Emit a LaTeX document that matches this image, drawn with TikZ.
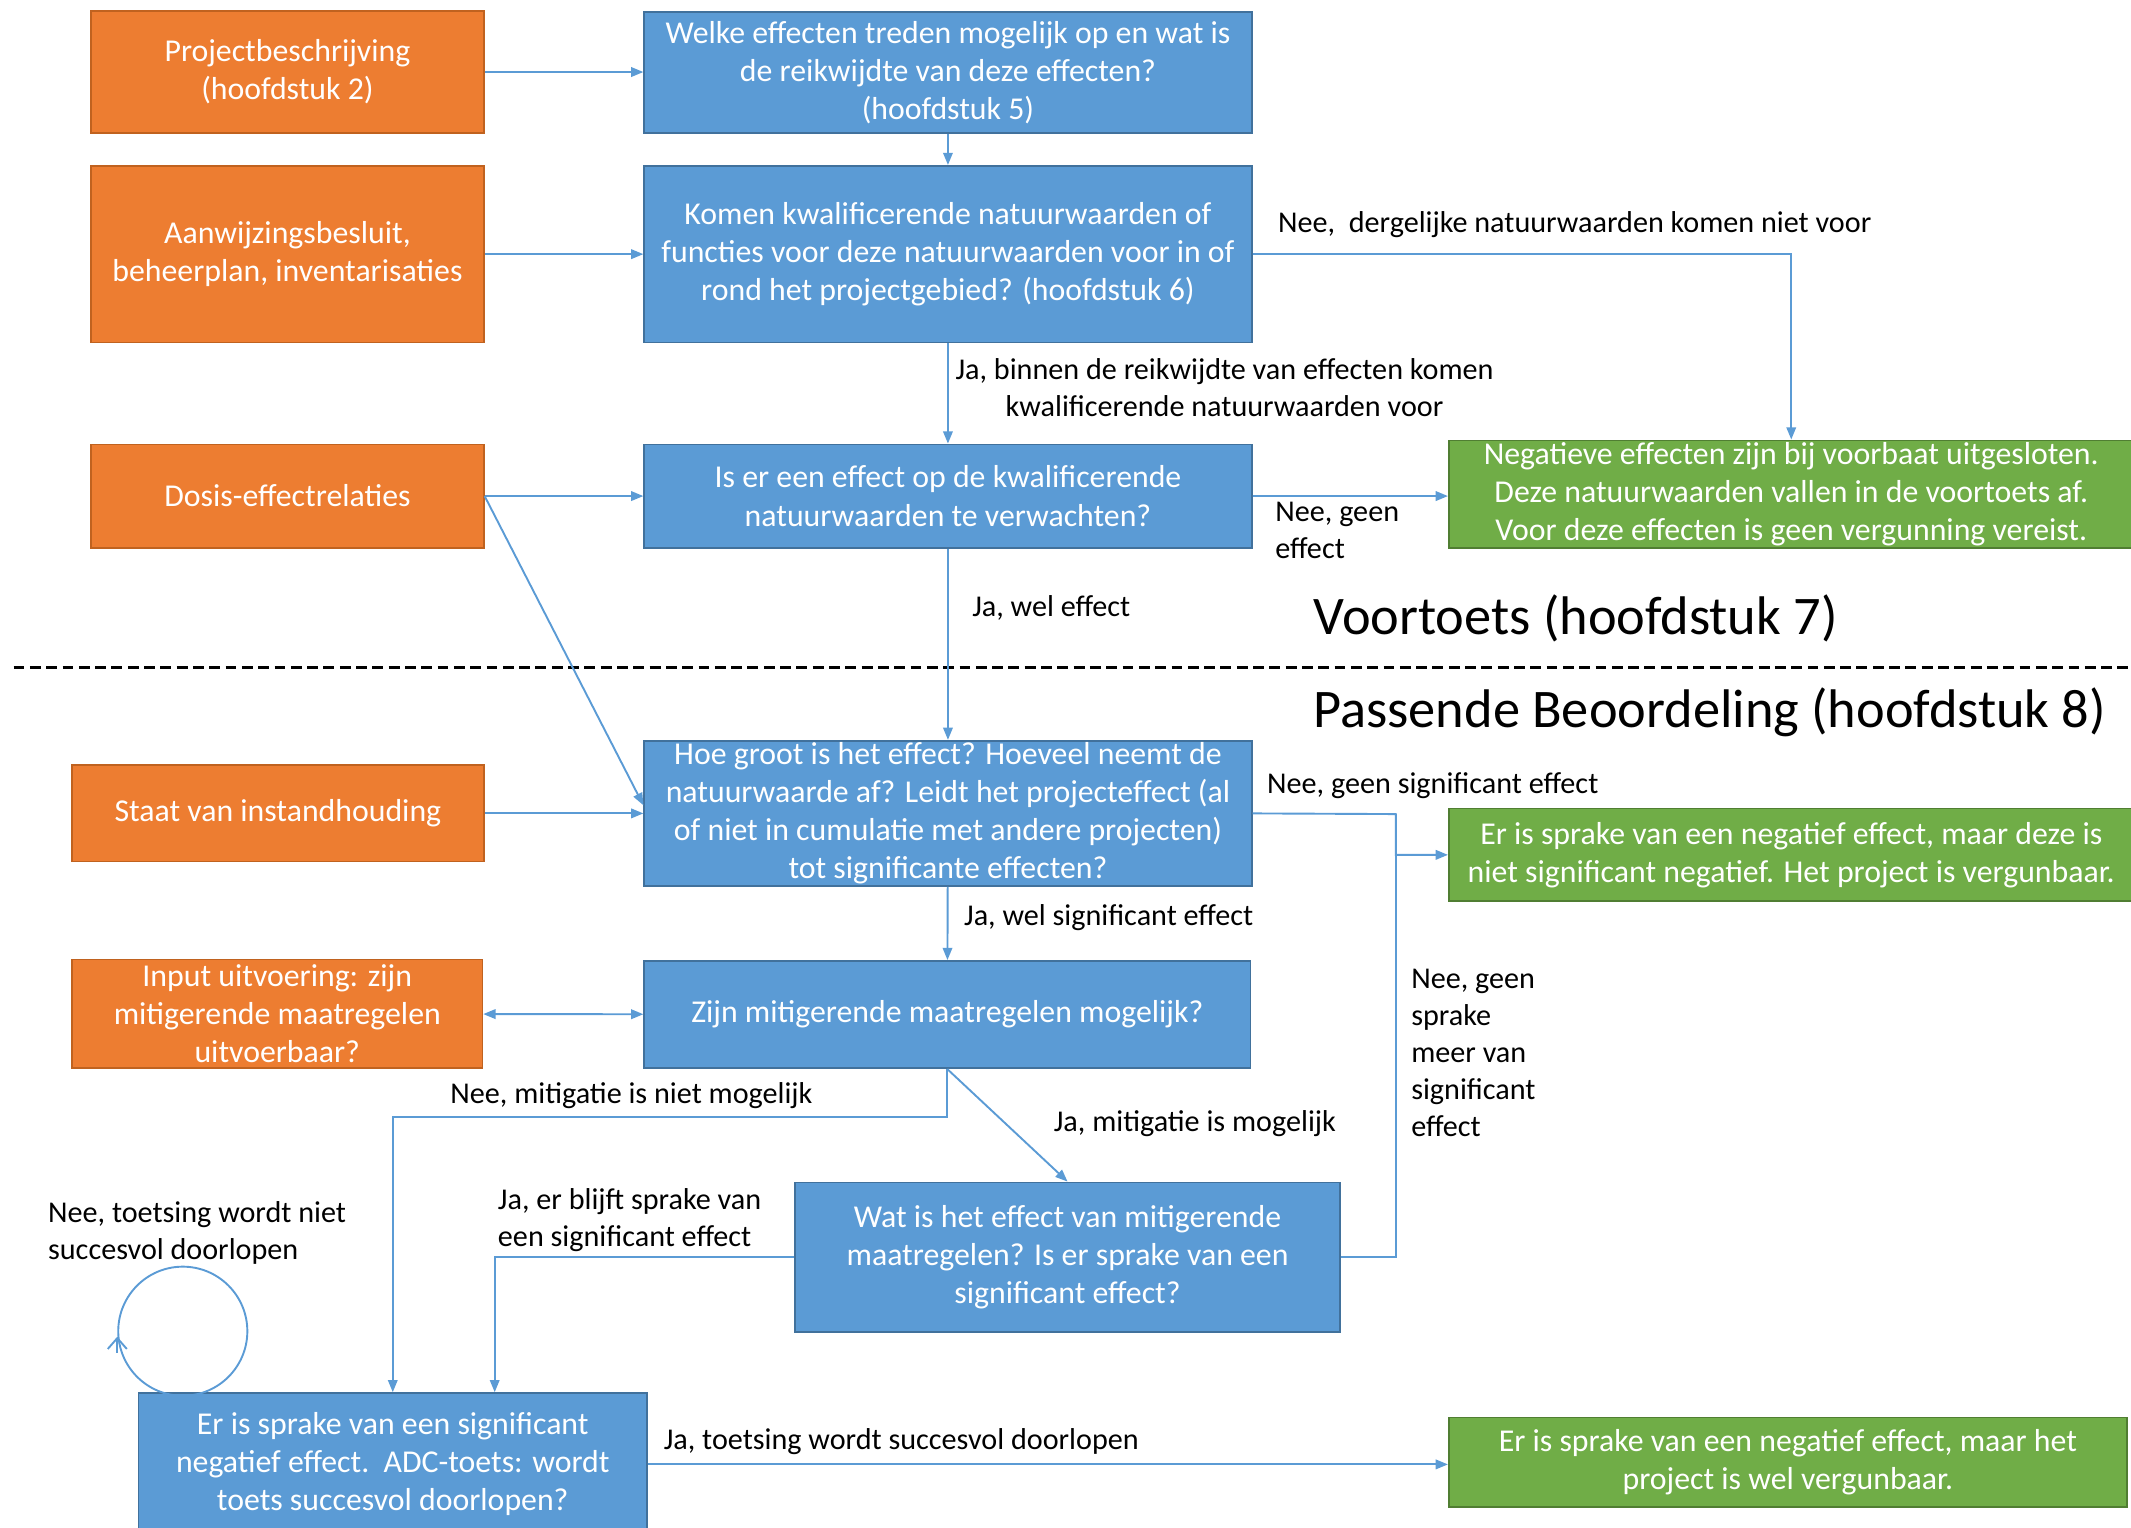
\documentclass[tikz,border=0pt]{standalone}
\usepackage{fontspec}
\setmainfont{Carlito}
\usetikzlibrary{arrows.meta}
\definecolor{oranjevak}{HTML}{ED7D31}
\definecolor{oranjerand}{HTML}{C0621F}
\definecolor{blauwvak}{HTML}{5B9BD5}
\definecolor{blauwrand}{HTML}{41719C}
\definecolor{groenvak}{HTML}{70AD47}
\definecolor{groenrand}{HTML}{507E32}
\begin{document}
\begin{tikzpicture}[x=0.5pt,y=-0.5pt,every node/.style={align=center,font=\fontsize{11.7}{14}\selectfont},
invoer/.style={rectangle,fill=oranjevak,draw=oranjerand,text=white,line width=0.6pt,inner ysep=0pt},
vraag/.style={rectangle,fill=blauwvak,draw=blauwrand,text=white,line width=0.6pt,inner ysep=0pt},
uitkomst/.style={rectangle,fill=groenvak,draw=groenrand,text=white,line width=0.6pt,inner ysep=0pt},
lijn/.style={draw=blauwvak,line width=0.7pt},
pijl/.style={lijn,-{Triangle[length=4.5pt,width=3.5pt]}},
tekst/.style={inner sep=0pt,anchor=west,align=left,font=\fontsize{11.1}{13.6}\selectfont},
kop/.style={inner sep=0pt,anchor=west,font=\fontsize{20}{24}\selectfont}]
\useasboundingbox (0,0) rectangle (1568,1124);
% invoer links
\node[invoer,minimum width=144.5pt,minimum height=45pt] (o1) at (211.5,53) {Projectbeschrijving\\(hoofdstuk 2)};
\node[invoer,minimum width=144.5pt,minimum height=65pt] (o2) at (211.5,187) {Aanwijzingsbesluit,\\beheerplan, inventarisaties};
\node[invoer,minimum width=144.5pt,minimum height=38pt] (o3) at (211.5,365) {Dosis-effectrelaties};
\node[invoer,minimum width=151.5pt,minimum height=35.5pt] (o4) at (204.5,598.5) {Staat van instandhouding};
\node[invoer,minimum width=151pt,minimum height=40pt] (o5) at (204,746) {Input uitvoering: zijn\\mitigerende maatregelen\\uitvoerbaar?};
% vragen
\node[vraag,minimum width=223.5pt,minimum height=44.5pt] (b1) at (697.5,53.5) {Welke effecten treden mogelijk op en wat is\\de reikwijdte van deze effecten?\\(hoofdstuk 5)};
\node[vraag,minimum width=223.5pt,minimum height=65pt] (b2) at (697.5,187) {Komen kwalificerende natuurwaarden of\\functies voor deze natuurwaarden voor in of\\rond het projectgebied? (hoofdstuk 6)};
\node[vraag,minimum width=223.5pt,minimum height=38pt] (b3) at (697.5,365) {Is er een effect op de kwalificerende\\natuurwaarden te verwachten?};
\node[vraag,minimum width=223.5pt,minimum height=53.5pt] (b4) at (697.5,598.5) {Hoe groot is het effect? Hoeveel neemt de\\natuurwaarde af? Leidt het projecteffect (al\\of niet in cumulatie met andere projecten)\\tot significante effecten?};
\node[vraag,minimum width=223pt,minimum height=39.5pt] (b5) at (697,746.5) {Zijn mitigerende maatregelen mogelijk?};
\node[vraag,minimum width=200.5pt,minimum height=55pt] (b6) at (785.5,925) {Wat is het effect van mitigerende\\maatregelen? Is er sprake van een\\significant effect?};
\node[vraag,minimum width=187pt,minimum height=52.5pt] (b7) at (289,1077.5) {Er is sprake van een significant\\negatief effect.\ \ ADC-toets: wordt\\toets succesvol doorlopen?};
% uitkomsten
\node[uitkomst,minimum width=252pt,minimum height=39.5pt] (g1) at (1318,363.5) {Negatieve effecten zijn bij voorbaat uitgesloten.\\Deze natuurwaarden vallen in de voortoets af.\\Voor deze effecten is geen vergunning vereist.};
\node[uitkomst,minimum width=252pt,minimum height=34pt] (g2) at (1318,629) {Er is sprake van een negatief effect, maar deze is\\niet significant negatief. Het project is vergunbaar.};
\node[uitkomst,minimum width=249.5pt,minimum height=33pt] (g3) at (1315.5,1076) {Er is sprake van een negatief effect, maar het\\project is wel vergunbaar.};
% teksten bij de pijlen
\node[tekst] (t1) at (940,165) {Nee,\ \ dergelijke natuurwaarden komen niet voor};
\node[tekst,anchor=center,align=center] (t2) at (901,285) {Ja, binnen de reikwijdte van effecten komen\\kwalificerende natuurwaarden voor};
\node[tekst] (t3) at (938,390) {Nee, geen\\effect};
\node[tekst] (t4) at (715,447) {Ja, wel effect};
\node[tekst] (t5) at (932,578) {Nee, geen significant effect};
\node[tekst] (t6) at (709,675) {Ja, wel significant effect};
\node[tekst] (t7) at (1038,775) {Nee, geen\\sprake\\meer van\\significant\\effect};
\node[tekst] (t8) at (331,806) {Nee, mitigatie is niet mogelijk};
\node[tekst] (t9) at (775,827) {Ja, mitigatie is mogelijk};
\node[tekst] (t10) at (366,898) {Ja, er blijft sprake van\\een significant effect};
\node[tekst] (t11) at (35,907) {Nee, toetsing wordt niet\\succesvol doorlopen};
\node[tekst] (t12) at (488,1061) {Ja, toetsing wordt succesvol doorlopen};
\node[kop] (voortoets) at (966,455) {Voortoets (hoofdstuk 7)};
\node[kop] (passend) at (966,524) {Passende Beoordeling (hoofdstuk 8)};
\draw[line width=1pt,dash pattern=on 4pt off 2pt] (10,491) -- (1568,491);
% pijlen
\coordinate (knik) at (1027,599);
\draw[pijl] (o1.east) -- (o1.east -| b1.west);
\draw[pijl] (b1) -- (b2);
\draw[pijl] (o2) -- (b2);
\draw[pijl] (b2.east) -| (g1.north);
\draw[pijl] (b2) -- (b3);
\draw[pijl] (o3) -- (b3);
\draw[pijl] (o3.east) -- ([yshift=3pt]b4.west);
\draw[pijl] (b3.east) -- (b3.east -| g1.west);
\draw[pijl] (b3) -- (b4);
\draw[pijl] (o4) -- (b4);
\draw[pijl] (b4.east) -- (knik) |- (g2.west);
\draw[lijn] (b6.east) -| (knik);
\draw[pijl] (b4) -- (b5);
\draw[lijn,{Triangle[length=4.5pt,width=3.5pt]}-{Triangle[length=4.5pt,width=3.5pt]}] (o5) -- (b5);
\draw[pijl] (b5.south) -- ++(0,35) -| (b7.north);
\draw[pijl] (b5.south) -- (b6.north);
\draw[pijl] (b6.west) -| ([xshift=37.5pt]b7.north);
\draw[pijl] (b7.east) -- (b7.east -| g3.west);
% lus terug naar zichzelf
\node[circle,lijn,minimum size=47.5pt,inner sep=0pt] (lus) at (134.5,979.5) {};
\draw[lijn,-{Straight Barb[length=4pt,width=7pt]}] ([yshift=-8pt]lus.west) -- ([yshift=-2pt]lus.west);
\end{tikzpicture}
\end{document}
